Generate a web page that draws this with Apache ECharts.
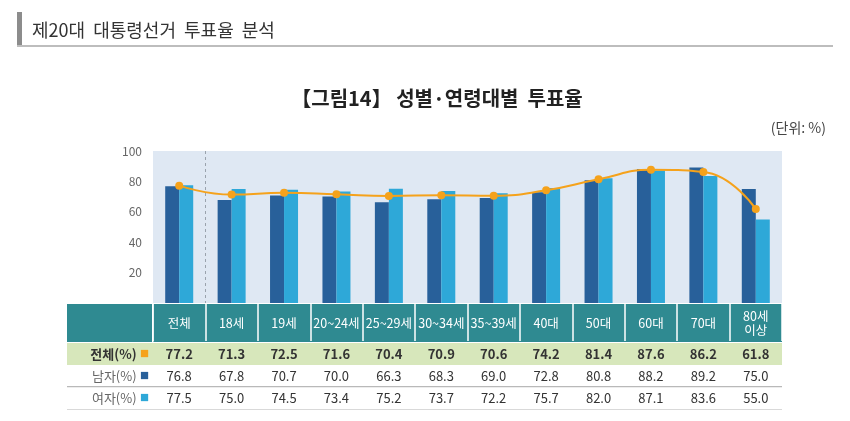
<!DOCTYPE html>
<html><head><meta charset="utf-8">
<script src="https://cdn.jsdelivr.net/npm/echarts@6/dist/echarts.min.js"></script>
<style>html,body{margin:0;padding:0;background:#fff}#c{width:850px;height:421px}</style>
</head><body><div id="c"></div>
<script>
const categories = ['전체','18세','19세','20~24세','25~29세','30~34세','35~39세','40대','50대','60대','70대','80세\n이상'];
const total  = [77.2,71.3,72.5,71.6,70.4,70.9,70.6,74.2,81.4,87.6,86.2,61.8];
const male   = [76.8,67.8,70.7,70.0,66.3,68.3,69.0,72.8,80.8,88.2,89.2,75.0];
const female = [77.5,75.0,74.5,73.4,75.2,73.7,72.2,75.7,82.0,87.1,83.6,55.0];
const rowLabels = ['전체(%)','남자(%)','여자(%)'];
const yTicks = [0,20,40,60,80,100];

const FONT = '"Noto Sans CJK KR", "Noto Sans", sans-serif';
const C_TOTAL = '#f5a21b', C_MALE = '#28609a', C_FEMALE = '#2ea8d8';
const chart = echarts.init(document.getElementById('c'));

function rowAxis(vals, margin, bold) {
  return {
    type: 'category', data: vals.map(v => v.toFixed(1)), position: 'bottom', gridIndex: 0,
    axisLine: {show: false}, axisTick: {show: false},
    axisLabel: {interval: 0, margin: margin, verticalAlign: 'middle', fontFamily: FONT,
      fontSize: 13, color: '#333', fontWeight: bold ? 'bold' : 'normal'}
  };
}

const baseGraphic = [
  {type: 'rect', shape: {x: 17, y: 12, width: 5, height: 35}, style: {fill: '#8c8c8c'}},
  {type: 'rect', shape: {x: 17, y: 45, width: 816, height: 2}, style: {fill: '#bdbdbd'}},
  {type: 'text', x: 32, y: 30, style: {text: '제20대  대통령선거  투표율  분석', font: '18px ' + FONT, fill: '#333', verticalAlign: 'middle'}},
  {type: 'text', x: 437, y: 98, style: {text: '【그림14】 성별·연령대별  투표율', font: 'bold 20px ' + FONT, fill: '#222', align: 'center', verticalAlign: 'middle'}},
  {type: 'text', x: 826, y: 128, style: {text: '(단위: %)', font: '14px ' + FONT, fill: '#444', align: 'right', verticalAlign: 'middle'}},
  {type: 'rect', z: -1, shape: {x: 67, y: 304, width: 715, height: 38}, style: {fill: '#2f8a91'}},
  {type: 'rect', z: 1, shape: {x: 152, y: 304, width: 1.5, height: 38}, style: {fill: '#ffffff'}},
  {type: 'rect', z: -1, shape: {x: 67, y: 343, width: 715, height: 22}, style: {fill: '#d7e7bb'}},
  {type: 'rect', z: -1, shape: {x: 67, y: 386, width: 715, height: 1.2}, style: {fill: '#b9b9b9'}},
  {type: 'rect', z: -1, shape: {x: 67, y: 409, width: 715, height: 1}, style: {fill: '#d9d9d9'}},
  {type: 'text', x: 149, y: 354, style: {
    text: '{b|' + rowLabels[0] + '} {o|■}', align: 'right', verticalAlign: 'middle',
    rich: {b: {fontFamily: FONT, fontSize: 13, fontWeight: 'bold', fill: '#333'}, o: {fontSize: 15, fill: C_TOTAL}}}},
  {type: 'text', x: 149, y: 376, style: {
    text: '{b|' + rowLabels[1] + '} {o|■}', align: 'right', verticalAlign: 'middle',
    rich: {b: {fontFamily: FONT, fontSize: 13, fill: '#666'}, o: {fontSize: 15, fill: C_MALE}}}},
  {type: 'text', x: 149, y: 398, style: {
    text: '{b|' + rowLabels[2] + '} {o|■}', align: 'right', verticalAlign: 'middle',
    rich: {b: {fontFamily: FONT, fontSize: 13, fill: '#666'}, o: {fontSize: 15, fill: C_FEMALE}}}}
];

chart.setOption({
  animation: false,
  textStyle: {fontFamily: FONT},
  grid: {left: 153, right: 68, top: 151, bottom: 118, show: true, backgroundColor: '#dfe8f3', borderWidth: 0},
  graphic: baseGraphic,
  xAxis: [
    {type: 'category', data: categories, position: 'bottom',
      axisLine: {show: false},
      axisTick: {show: true, interval: 0, length: 38, lineStyle: {color: '#ffffff', width: 1.5}},
      axisLabel: {interval: 0, margin: 20, verticalAlign: 'middle', color: '#fff', fontSize: 12.5, lineHeight: 14, fontFamily: FONT}},
    rowAxis(total, 51, true),
    rowAxis(male, 73, false),
    rowAxis(female, 95, false)
  ],
  yAxis: {type: 'value', min: 0, max: 100, interval: 20,
    axisLine: {show: false}, axisTick: {show: false}, splitLine: {show: false},
    axisLabel: {margin: 11, color: '#666', fontSize: 12, fontFamily: FONT,
      formatter: v => (v === 0 ? '' : String(v))}},
  series: [
    {name: '남자', type: 'bar', data: male, barWidth: 14, barGap: '0%', itemStyle: {color: C_MALE}},
    {name: '여자', type: 'bar', data: female, barWidth: 14, itemStyle: {color: C_FEMALE}},
    {name: '전체', type: 'line', data: total, smooth: true, symbol: 'circle', symbolSize: 8,
      lineStyle: {color: C_TOTAL, width: 2}, itemStyle: {color: C_TOTAL}, z: 5}
  ]
});

// dashed separator between '전체' and the age groups, placed via the axis scale
const p0 = chart.convertToPixel({xAxisIndex: 0, yAxisIndex: 0}, [0, 100]);
const p1 = chart.convertToPixel({xAxisIndex: 0, yAxisIndex: 0}, [1, 0]);
const xb = Math.round((p0[0] + p1[0]) / 2) + 0.5;
chart.setOption({graphic: baseGraphic.concat([
  {type: 'line', z: 1, shape: {x1: xb, y1: p0[1], x2: xb, y2: p1[1]},
    style: {stroke: '#9aa3ad', lineWidth: 1, lineDash: [3, 3]}}
])});
</script></body></html>
